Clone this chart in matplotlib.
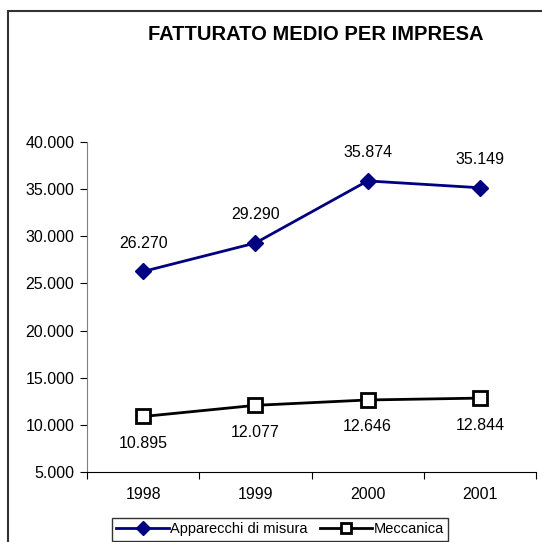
import matplotlib
matplotlib.use('Agg')
import matplotlib.pyplot as plt
from matplotlib.patches import Rectangle

plt.rcParams['font.family'] = ['Liberation Sans', 'DejaVu Sans']

# Dati
anni = ['1998', '1999', '2000', '2001']
apparecchi = [26270, 29290, 35874, 35149]
meccanica = [10895, 12077, 12646, 12844]
yticks = [5000, 10000, 15000, 20000, 25000, 30000, 35000, 40000]


def fmt(v):
    return '{:,}'.format(v).replace(',', '.')


fig = plt.figure(figsize=(5.42, 5.42), dpi=100)
ax = fig.add_axes([0.1605, 0.129, 0.8285, 0.609])

# cornice del grafico
fig.patches.append(Rectangle((8 / 542, -0.1), 1.2, 1 - 11 / 542 + 0.1,
                             transform=fig.transFigure, fill=False,
                             edgecolor='#333333', lw=1.5))

x = [i + 0.5 for i in range(len(anni))]
ax.plot(x, apparecchi, color='#000080', marker='D', markersize=8.5,
        lw=2, label='Apparecchi di misura')
ax.plot(x, meccanica, color='black', marker='s', markersize=9.5,
        markerfacecolor='white', markeredgewidth=2, lw=2, label='Meccanica')

for xi, v in zip(x, apparecchi):
    ax.annotate(fmt(v), (xi, v), xytext=(0, 15), textcoords='offset points',
                ha='center', va='bottom', fontsize=11.5)
for xi, v in zip(x, meccanica):
    ax.annotate(fmt(v), (xi, v), xytext=(0, -14), textcoords='offset points',
                ha='center', va='top', fontsize=11.5)

ax.set_xlim(0, 4)
ax.set_ylim(5000, 40000)
ax.set_yticks(yticks)
ax.set_yticklabels([fmt(v) for v in yticks], fontsize=11.5)
ax.set_xticks([0, 1, 2, 3, 4])
ax.set_xticklabels([])
ax.set_xticks(x, minor=True)
ax.set_xticklabels(anni, minor=True, fontsize=11.5)
ax.tick_params(axis='x', which='minor', length=0, pad=11)
ax.tick_params(axis='x', which='major', length=5, direction='out')
ax.tick_params(axis='y', length=5, direction='out', pad=4)

for s in ['top', 'right']:
    ax.spines[s].set_visible(False)
ax.spines['left'].set_color('#808080')
ax.spines['bottom'].set_color('black')

fig.text(316 / 542, 1 - 35 / 542, 'FATTURATO MEDIO PER IMPRESA',
         ha='center', va='center', fontsize=14.5, fontweight='bold')

leg = ax.legend(loc='upper left', bbox_to_anchor=(112 / 542, 1 - 518 / 542),
                bbox_transform=fig.transFigure, ncol=2, fontsize=10.5,
                frameon=True, fancybox=False, borderpad=0.3, markerscale=0.8,
                handlelength=3.6, handletextpad=0.1, columnspacing=0.8,
                borderaxespad=0)
leg.get_frame().set_edgecolor('black')
leg.get_frame().set_linewidth(1)

fig.savefig('out.png', dpi=100)
